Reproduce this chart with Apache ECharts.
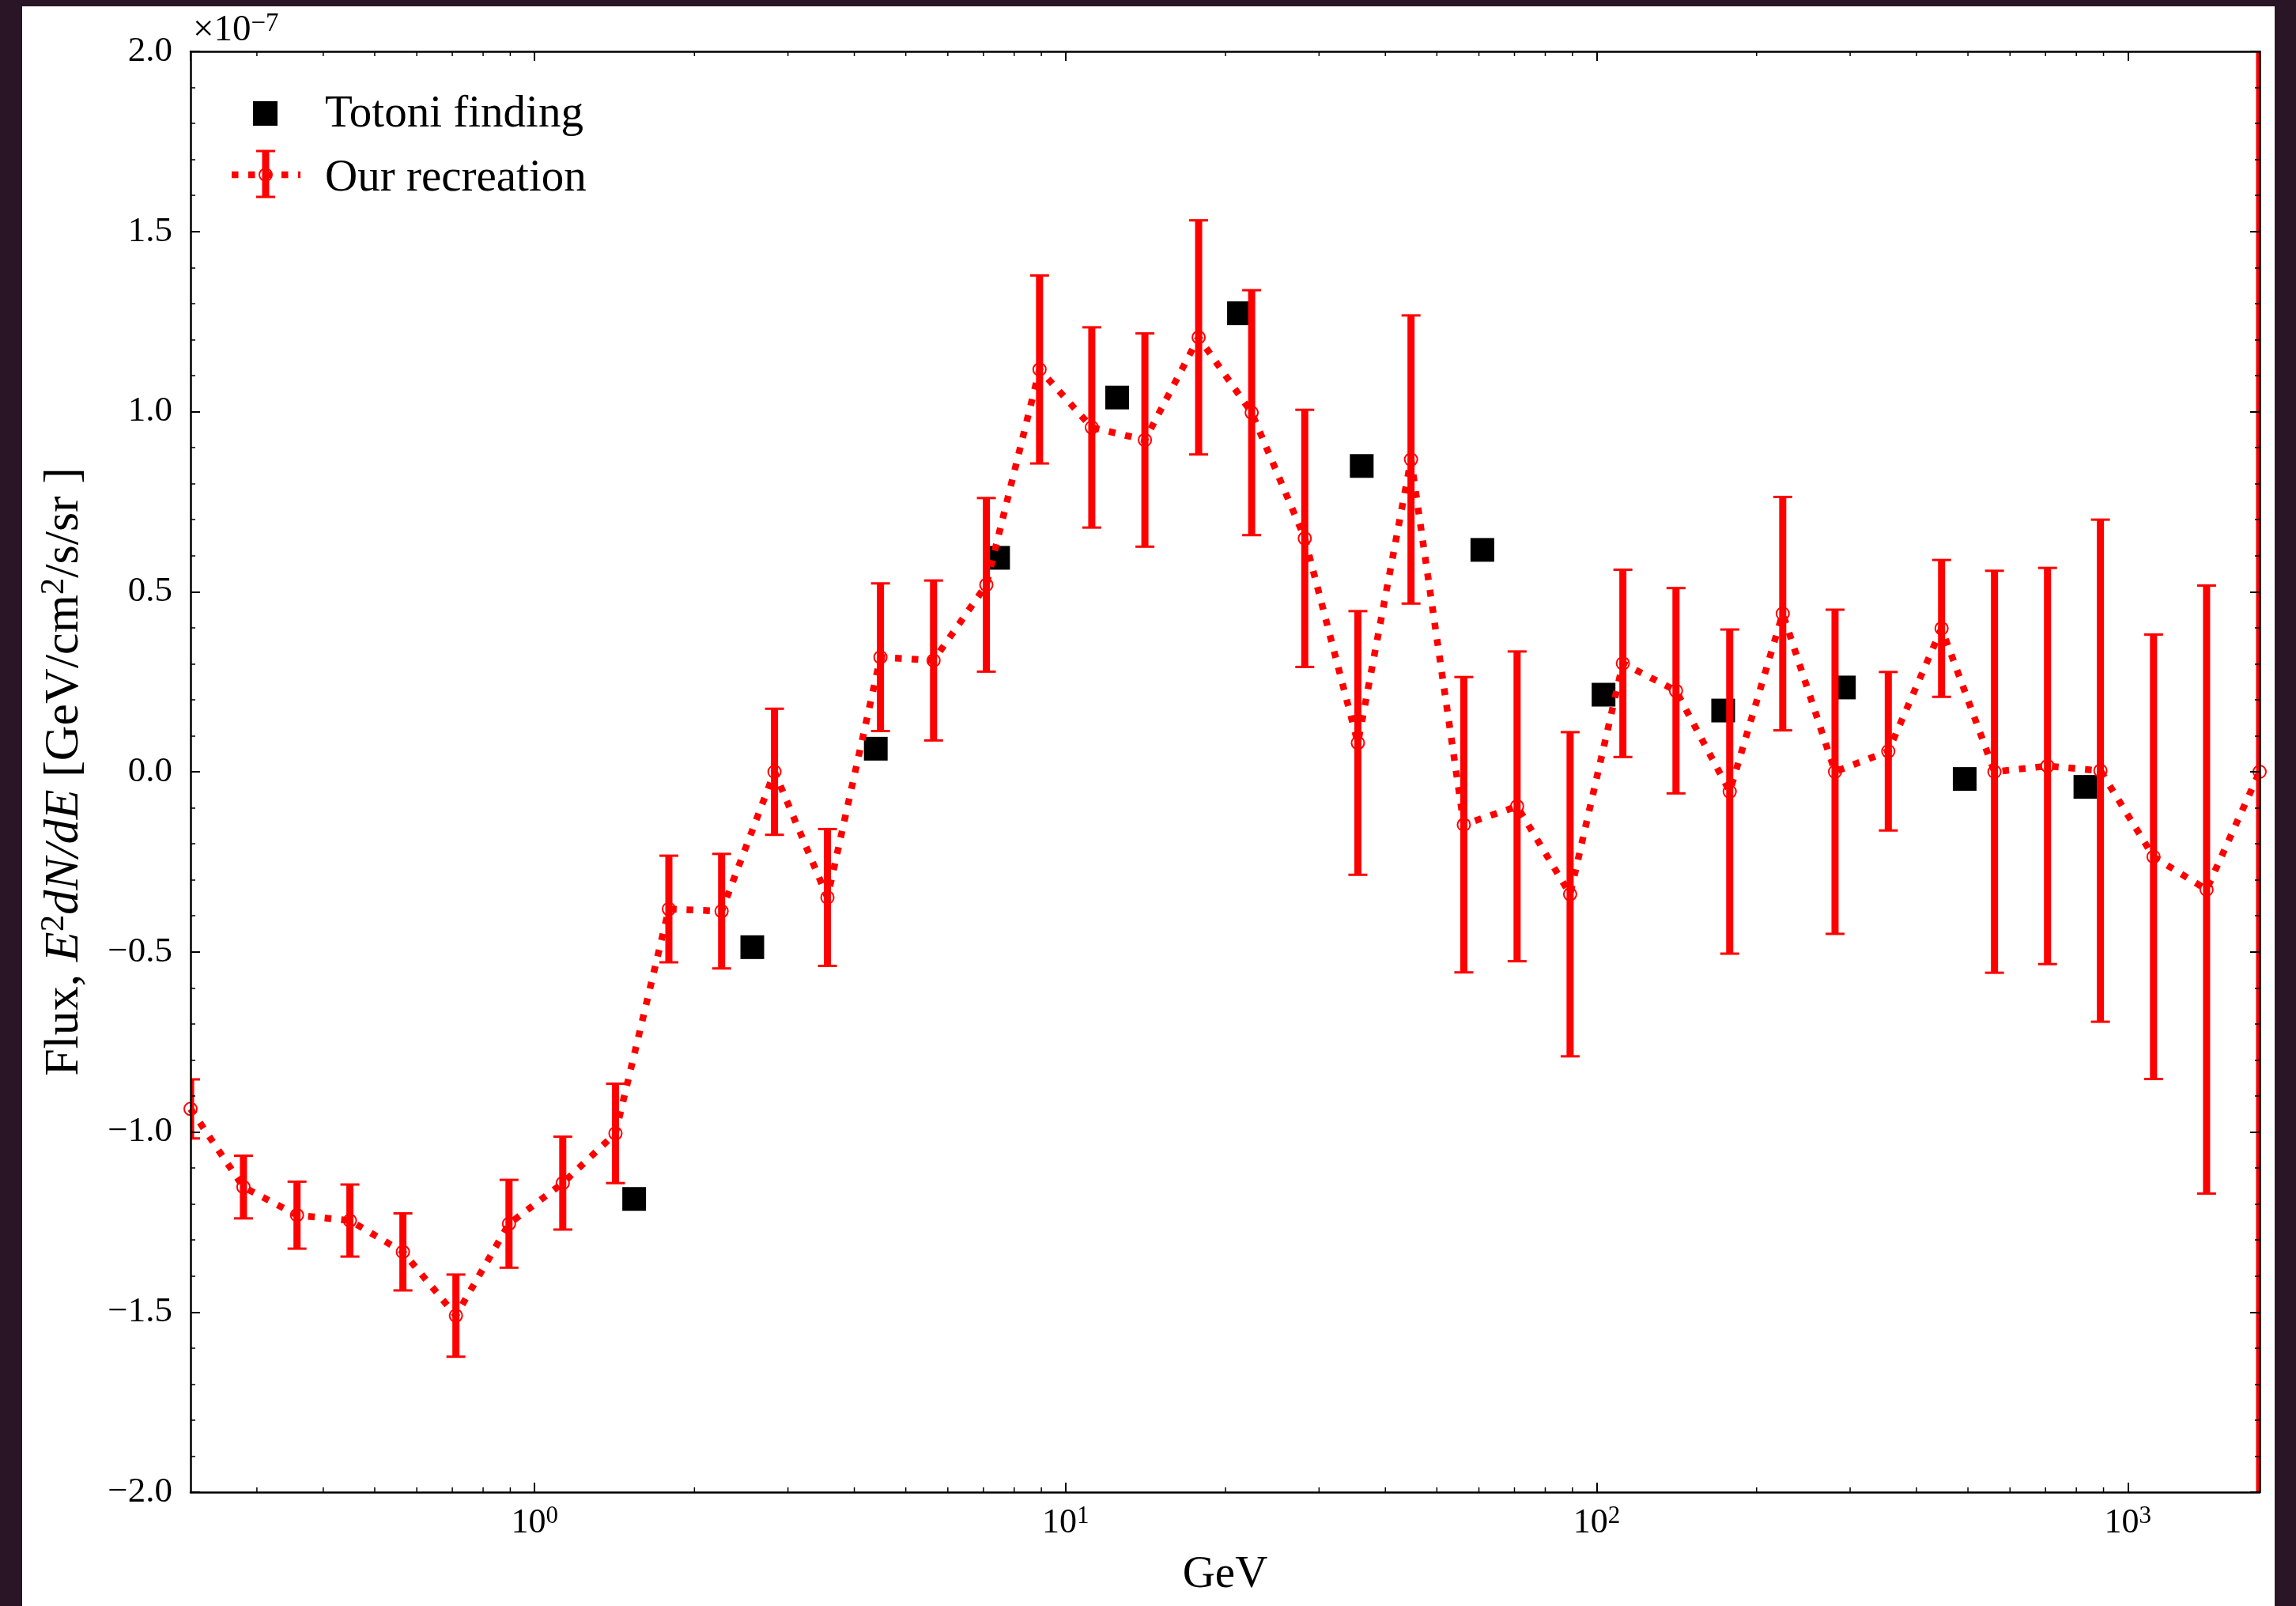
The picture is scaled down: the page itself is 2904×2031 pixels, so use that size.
<!DOCTYPE html>
<html>
<head>
<meta charset="utf-8">
<title>Flux spectrum</title>
<script src="https://cdn.jsdelivr.net/npm/echarts@6/dist/echarts.min.js"></script>
<style>
  html, body { margin: 0; padding: 0; width: 2904px; height: 2031px; overflow: hidden; background: #2a1527; }
  #panel { position: absolute; left: 28px; top: 8px; width: 2849px; height: 2023px; background: #ffffff; }
  #chart { position: absolute; left: 0; top: 0; width: 2904px; height: 2031px; }
</style>
</head>
<body>
<div id="panel"></div>
<div id="chart"></div>
<script>
// Energy bin centres of our recreation (GeV)
const energyGeV = [0.225, 0.283, 0.357, 0.449, 0.565, 0.711, 0.895, 1.13, 1.42, 1.79,
                   2.25, 2.83, 3.56, 4.48, 5.64, 7.09, 8.93, 11.2, 14.1, 17.8,
                   22.4, 28.2, 35.5, 44.7, 56.2, 70.8, 89.1, 112, 141, 178,
                   224, 281, 354, 446, 561, 706, 888, 1118, 1407, 1771];
// E^2 dN/dE of our recreation, in units of 1e-7 GeV/cm^2/s/sr
const fluxRecreation = [-0.936, -1.153, -1.231, -1.246, -1.333, -1.510, -1.255, -1.142, -1.004, -0.381,
                        -0.387, 0.000, -0.349, 0.318, 0.309, 0.519, 1.117, 0.956, 0.921, 1.206,
                        0.997, 0.648, 0.080, 0.867, -0.147, -0.096, -0.340, 0.301, 0.225, -0.055,
                        0.439, 0.000, 0.057, 0.398, 0.000, 0.016, 0.003, -0.236, -0.327, 0.000];
// symmetric 1-sigma uncertainties, same units
const errRecreation = [0.082, 0.087, 0.093, 0.100, 0.107, 0.114, 0.122, 0.129, 0.138, 0.148,
                       0.159, 0.175, 0.190, 0.205, 0.222, 0.241, 0.261, 0.278, 0.296, 0.325,
                       0.340, 0.357, 0.366, 0.400, 0.410, 0.430, 0.450, 0.260, 0.285, 0.450,
                       0.324, 0.450, 0.220, 0.190, 0.558, 0.550, 0.697, 0.617, 0.844, 2.600];
// Totoni finding
const energyTotoni = [1.54, 2.57, 4.39, 7.46, 12.5, 21.2, 36.1, 60.9, 103, 173, 292, 493, 832];
const fluxTotoni = [-1.186, -0.487, 0.064, 0.594, 1.039, 1.273, 0.849, 0.616, 0.214, 0.170, 0.234, -0.020, -0.042];

// axis ticks
const fluxTicks = [-2.0, -1.5, -1.0, -0.5, 0.0, 0.5, 1.0, 1.5, 2.0];
const energyDecades = [1, 10, 100, 1000];

const FONT = '"Liberation Serif", "DejaVu Serif", serif';
const RED = '#ff0000';
const xMin = energyGeV[0];
const xMax = energyGeV[energyGeV.length - 1];

// minor ticks of the logarithmic energy axis (2..9 x 10^k inside the range)
const logMinorTicks = [];
for (let k = -1; k <= 3; k++) {
  for (let m = 2; m <= 9; m++) {
    const v = m * Math.pow(10, k);
    if (v > xMin && v < xMax) logMinorTicks.push(v);
  }
}

function decadeLabel(v) {
  const hit = energyDecades.find(d => Math.abs(d - v) < 1e-6 * d);
  if (hit === undefined) return '';
  const p = Math.round(Math.log10(hit));
  return '{b|10}{s|' + String(p).replace('-', '\u2212') + '}';
}
function fluxLabel(v) {
  return (v < 0 ? '\u2212' : '') + Math.abs(v).toFixed(1);
}

const supRich = {
  b: { fontFamily: FONT, fontSize: 44, color: '#000', lineHeight: 48 },
  s: { fontFamily: FONT, fontSize: 31, color: '#000', lineHeight: 24, verticalAlign: 'top' }
};

const spine = {
  axisLine: { show: true, onZero: false, lineStyle: { color: '#000', width: 2.5 } },
  axisTick: { show: true, inside: true, length: 12, lineStyle: { color: '#000', width: 2 } },
  splitLine: { show: false },
  z: 10
};

const chart = echarts.init(document.getElementById('chart'), null, { renderer: 'canvas', width: 2904, height: 2031 });

chart.setOption({
  animation: false,
  backgroundColor: 'transparent',
  textStyle: { fontFamily: FONT, color: '#000' },
  grid: { left: 241, top: 65, width: 2617, height: 1822, containLabel: false, outerBoundsMode: 'none' },
  xAxis: [
    Object.assign({}, spine, {
      type: 'log', logBase: 10, min: xMin, max: xMax, position: 'bottom',
      axisLabel: { show: true, margin: 15, showMinLabel: false, showMaxLabel: false,
                   formatter: decadeLabel, rich: supRich, color: '#000' },
      name: 'GeV', nameLocation: 'middle', nameGap: 72,
      nameTextStyle: { fontFamily: FONT, fontSize: 57, color: '#000', lineHeight: 66 }
    }),
    Object.assign({}, spine, {
      type: 'log', logBase: 10, min: xMin, max: xMax, position: 'top',
      axisLabel: { show: false }
    })
  ],
  yAxis: [
    Object.assign({}, spine, {
      type: 'value', min: fluxTicks[0], max: fluxTicks[fluxTicks.length - 1],
      interval: fluxTicks[1] - fluxTicks[0], position: 'left',
      minorTick: { show: true, splitNumber: 5, length: 6, lineStyle: { color: '#000', width: 1.5 } },
      minorSplitLine: { show: false },
      axisLabel: { show: true, margin: 23, formatter: fluxLabel, fontFamily: FONT, fontSize: 45, color: '#000' },
      name: '{r|Flux, }{i|E}{s|2}{i|dN/dE}{r| [GeV/cm}{s|2}{r|/s/sr ]}',
      nameLocation: 'middle', nameRotate: 90, nameGap: 124,
      nameTextStyle: {
        rich: {
          r: { fontFamily: FONT, fontSize: 62, color: '#000', lineHeight: 70 },
          i: { fontFamily: FONT, fontSize: 62, fontStyle: 'italic', color: '#000', lineHeight: 70 },
          s: { fontFamily: FONT, fontSize: 43, color: '#000', lineHeight: 42, verticalAlign: 'top' }
        }
      }
    }),
    Object.assign({}, spine, {
      type: 'value', min: fluxTicks[0], max: fluxTicks[fluxTicks.length - 1],
      interval: fluxTicks[1] - fluxTicks[0], position: 'right',
      minorTick: { show: true, splitNumber: 5, length: 6, lineStyle: { color: '#000', width: 1.5 } },
      minorSplitLine: { show: false },
      axisLabel: { show: false }
    })
  ],
  graphic: [
    // scale multiplier of the flux axis
    { type: 'text', x: 244, y: 14, z: 20,
      style: { text: '{t|\u00d710}{s|\u22127}', rich: {
        t: { fontFamily: FONT, fontSize: 47, fill: '#000', lineHeight: 50 },
        s: { fontFamily: FONT, fontSize: 33, fill: '#000', lineHeight: 26, verticalAlign: 'top' } } } },
    // legend: Totoni finding
    { type: 'rect', z: 20, shape: { x: 320, y: 128, width: 31, height: 31 }, style: { fill: '#000' } },
    { type: 'text', x: 411, y: 145, z: 20,
      style: { text: 'Totoni finding', fontFamily: FONT, fontSize: 57, fill: '#000', verticalAlign: 'middle', align: 'left' } },
    // legend: Our recreation (dotted line, marker and error bar)
    { type: 'line', z: 20, shape: { x1: 293, y1: 221, x2: 380, y2: 221 },
      style: { stroke: RED, lineWidth: 8.5, lineDash: [8.5, 12.5], lineCap: 'butt' } },
    { type: 'line', z: 20, shape: { x1: 336, y1: 190, x2: 336, y2: 250 }, style: { stroke: RED, lineWidth: 9 } },
    { type: 'line', z: 20, shape: { x1: 324, y1: 191, x2: 348, y2: 191 }, style: { stroke: RED, lineWidth: 3 } },
    { type: 'line', z: 20, shape: { x1: 324, y1: 249, x2: 348, y2: 249 }, style: { stroke: RED, lineWidth: 3 } },
    { type: 'circle', z: 20, shape: { cx: 336, cy: 221, r: 8 }, style: { stroke: RED, lineWidth: 2, fill: 'none' } },
    { type: 'text', x: 411, y: 226, z: 20,
      style: { text: 'Our recreation', fontFamily: FONT, fontSize: 57, fill: '#000', verticalAlign: 'middle', align: 'left' } }
  ],
  series: [
    {
      name: 'Totoni finding', type: 'scatter', xAxisIndex: 0, yAxisIndex: 0,
      data: energyTotoni.map((e, i) => [e, fluxTotoni[i]]),
      symbol: 'rect', symbolSize: 30, itemStyle: { color: '#000', opacity: 1 }, z: 2
    },
    {
      name: 'Our recreation', type: 'line', xAxisIndex: 0, yAxisIndex: 0,
      data: energyGeV.map((e, i) => [e, fluxRecreation[i]]),
      symbol: 'circle', symbolSize: 16, showAllSymbol: true,
      itemStyle: { color: 'rgba(0,0,0,0)', borderColor: RED, borderWidth: 2 },
      lineStyle: { color: RED, width: 8.5, type: [8.5, 12.5], cap: 'butt' },
      clip: true, z: 3
    },
    {
      name: 'Our recreation errors', type: 'custom', xAxisIndex: 0, yAxisIndex: 0,
      data: energyGeV.map((e, i) => [e, fluxRecreation[i], errRecreation[i]]),
      encode: { x: 0, y: 1 }, clip: true, z: 4, silent: true,
      renderItem: function (params, api) {
        const cs = params.coordSys;
        const e = api.value(0), v = api.value(1), err = api.value(2);
        const hi = api.coord([e, v + err]);
        const lo = api.coord([e, v - err]);
        const x = hi[0];
        const yTop = Math.max(hi[1], cs.y), yBot = Math.min(lo[1], cs.y + cs.height);
        const children = [
          { type: 'line', shape: { x1: x, y1: yTop, x2: x, y2: yBot }, style: { stroke: RED, lineWidth: 9 } }
        ];
        const half = 12;
        if (hi[1] >= cs.y) children.push({ type: 'line', shape: { x1: x - half, y1: hi[1], x2: x + half, y2: hi[1] }, style: { stroke: RED, lineWidth: 3 } });
        if (lo[1] <= cs.y + cs.height) children.push({ type: 'line', shape: { x1: x - half, y1: lo[1], x2: x + half, y2: lo[1] }, style: { stroke: RED, lineWidth: 3 } });
        return { type: 'group', children: children };
      }
    },
    {
      name: 'log minor ticks', type: 'custom', xAxisIndex: 0, yAxisIndex: 0,
      data: logMinorTicks.map(v => [v, 0]),
      encode: { x: 0, y: 1 }, z: 10, silent: true,
      renderItem: function (params, api) {
        const cs = params.coordSys;
        const x = api.coord([api.value(0), 0])[0];
        const yb = cs.y + cs.height, yt = cs.y;
        return { type: 'group', children: [
          { type: 'line', shape: { x1: x, y1: yb, x2: x, y2: yb - 6 }, style: { stroke: '#000', lineWidth: 1.5 } },
          { type: 'line', shape: { x1: x, y1: yt, x2: x, y2: yt + 6 }, style: { stroke: '#000', lineWidth: 1.5 } }
        ] };
      }
    }
  ]
});
</script>
</body>
</html>
